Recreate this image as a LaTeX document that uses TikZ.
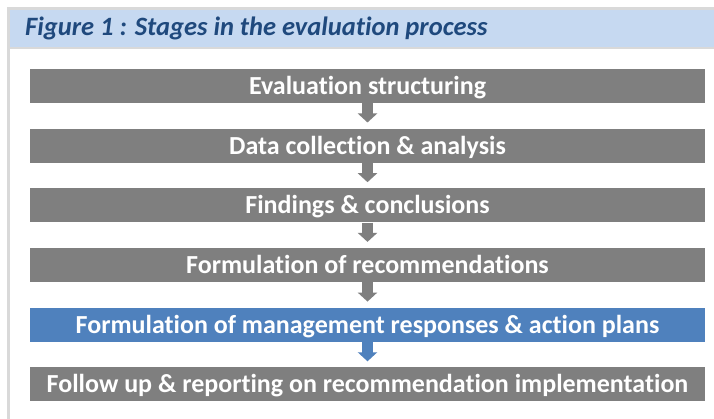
\documentclass[tikz,border=0pt]{standalone}
\usepackage{fontspec}
\setmainfont{Carlito}[Ligatures=NoCommon]
\usetikzlibrary{arrows.meta}
\definecolor{boxgrey}{HTML}{7F7F7F}
\definecolor{boxblue}{HTML}{4F81BD}
\definecolor{bandblue}{HTML}{C6D9F1}
\definecolor{titleblue}{HTML}{1F497D}
\definecolor{framegrey}{HTML}{D9D9D9}
\tikzset{
  stagebox/.style={minimum width=675pt, minimum height=34pt, inner sep=0pt,
    text height=16.8pt, text depth=0pt,
    fill=boxgrey, text=white, font=\fontsize{26}{30}\selectfont\bfseries},
  bluebox/.style={stagebox, fill=boxblue},
  flowarrow/.style={line width=11pt, boxgrey,
    -{Triangle[width=19pt,length=9pt]}, shorten >=6pt},
  blueflow/.style={flowarrow, boxblue}
}
\begin{document}
\begin{tikzpicture}[x=1pt,y=1pt]
\useasboundingbox (0,0) rectangle (714,419);
% frame and title band
\fill[framegrey] (7,0) rectangle (714,412);
\fill[white] (10,0) rectangle (714,370);
\fill[bandblue] (10,372) rectangle (714,409);
\node[anchor=base west, inner sep=0pt, text=titleblue,
  font=\fontsize{26.5}{30}\selectfont\bfseries\itshape] (title) at (25,383.5) {Figure 1 : Stages in the evaluation process};
% stages
\node[stagebox] (s1) at (367.5,333) {Evaluation structuring};
\node[stagebox] (s2) at (367.5,273.3) {Data collection \& analysis};
\node[stagebox] (s3) at (367.5,213.6) {Findings \& conclusions};
\node[stagebox] (s4) at (367.5,153.9) {Formulation of recommendations};
\node[bluebox] (s5) at (367.5,94.2) {Formulation of management responses \& action plans};
\node[stagebox] (s6) at (367.5,34.5) {Follow up \& reporting on recommendation implementation};
% arrows
\draw[flowarrow] (s1.south) -- (s2.north);
\draw[flowarrow] (s2.south) -- (s3.north);
\draw[flowarrow] (s3.south) -- (s4.north);
\draw[flowarrow] (s4.south) -- (s5.north);
\draw[blueflow] (s5.south) -- (s6.north);
\end{tikzpicture}
\end{document}
